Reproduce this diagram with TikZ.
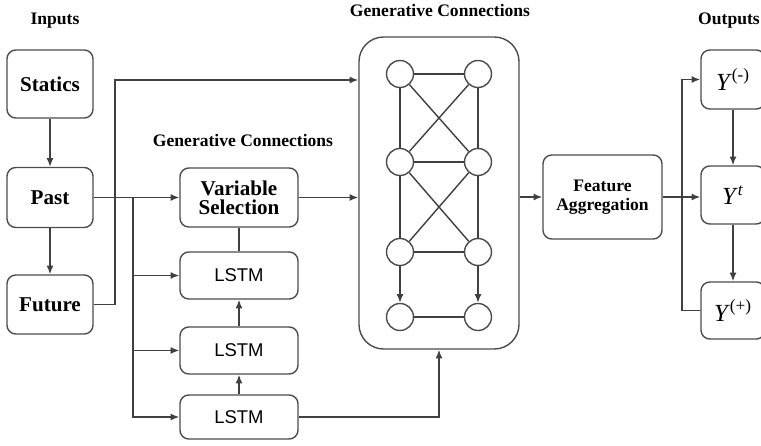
\documentclass[tikz,border=0pt]{standalone}
\usepackage{fontspec}
\setmainfont{Liberation Serif}
\setsansfont{Liberation Sans}
\usepackage{xcolor}
\usepackage{tikz}
\usetikzlibrary{arrows.meta}

\tikzset{
  box/.style={draw=black!70, line width=0.8pt, rounded corners=5pt, align=center,
    font=\fontsize{12}{13}\selectfont\bfseries},
  lstmbox/.style={box, font=\fontsize{10.5}{12}\selectfont\sffamily},
  ybox/.style={box, font=\fontsize{14}{16}\selectfont},
  unit/.style={circle, draw=black!70, line width=0.8pt, minimum size=27*0.02cm, inner sep=0pt},
  title/.style={font=\fontsize{10}{12}\selectfont\bfseries},
  wire/.style={draw=black!75, line width=0.8pt}
}

\begin{document}
\begin{tikzpicture}[x=0.02cm, y=-0.02cm, >={Latex[length=5pt,width=4pt]}]
    \useasboundingbox (0,0) rectangle (761,446);

    % titles
    \node[title] (tin) at (55,21) {Inputs};
    \node[title] (tgen) at (440,10) {Generative Connections};
    \node[title] (tvar) at (243,140) {Generative Connections};
    \node[title] (tout) at (729,21) {Outputs};

    % inputs
    \node[box, minimum width=86*0.02cm, minimum height=68*0.02cm] (statics) at (50,84) {Statics};
    \node[box, minimum width=86*0.02cm, minimum height=60*0.02cm] (past) at (50,197.5) {Past};
    \node[box, minimum width=86*0.02cm, minimum height=59*0.02cm] (future) at (50,304.5) {Future};

    % selection and lstm stack
    \node[box, minimum width=118*0.02cm, minimum height=59*0.02cm] (varsel) at (239,197.5) {Variable\\[-2pt]Selection};
    \node[lstmbox, minimum width=118*0.02cm, minimum height=47*0.02cm] (lstm1) at (239,275.5) {LSTM};
    \node[lstmbox, minimum width=118*0.02cm, minimum height=47*0.02cm] (lstm2) at (239,350.5) {LSTM};
    \node[lstmbox, minimum width=118*0.02cm, minimum height=44*0.02cm] (lstm3) at (239,417) {LSTM};

    % generative block
    \node[draw=black!70, line width=0.8pt, rounded corners=14pt, minimum width=160*0.02cm,
      minimum height=312*0.02cm] (genbox) at (439,193) {};
    \foreach \r/\yy in {1/74,2/162,3/252,4/317}{
      \node[unit] (l\r) at (400,\yy) {};
      \node[unit] (r\r) at (478,\yy) {};
      \draw[wire] (l\r) -- (r\r);
    }
    \draw[wire] (l1) -- (l2) (l2) -- (l3) (r1) -- (r2) (r2) -- (r3);
    \draw[wire] (l1) -- (r2) (r1) -- (l2) (l2) -- (r3) (r2) -- (l3);
    \draw[wire,->] (l3) -- (l4);
    \draw[wire,->] (r3) -- (r4);

    \node[box, font=\fontsize{10}{11}\selectfont\bfseries, minimum width=119*0.02cm,
      minimum height=84*0.02cm] (feat) at (602.5,197) {Feature\\Aggregation};

    % outputs
    \node[ybox, minimum width=64*0.02cm, minimum height=59*0.02cm] (ym) at (733,79.5) {\textit{Y}\textsuperscript{(-)}};
    \node[ybox, minimum width=64*0.02cm, minimum height=58*0.02cm] (yt) at (733,195) {\textit{Y}\textsuperscript{\textit{t}}};
    \node[ybox, minimum width=64*0.02cm, minimum height=57*0.02cm] (yp) at (733,310.5) {\textit{Y}\textsuperscript{(+)}};

    % connectors
    \coordinate (jf) at (115,80);
    \coordinate (jp) at (133,197.5);
    \coordinate (jo) at (682,197);
    \draw[wire,->] (statics) -- (past);
    \draw[wire,->] (past) -- (future);
    \draw[wire,->] (future.east) -| (jf) -- (jf -| genbox.west);
    \draw[wire,->] (past) -- (varsel);
    \draw[wire,->] (jp) |- (lstm3.west);
    \draw[wire,->] (jp |- lstm1.west) -- (lstm1.west);
    \draw[wire,->] (jp |- lstm2.west) -- (lstm2.west);
    \draw[wire] (varsel) -- (lstm1);
    \draw[wire,->] (lstm2) -- (lstm1);
    \draw[wire,->] (lstm3) -- (lstm2);
    \draw[wire,->] (varsel.east) -- (varsel.east -| genbox.west);
    \draw[wire,->] (lstm3.east) -| (genbox.south);
    \draw[wire,->] (genbox.east |- feat.west) -- (feat.west);
    \draw[wire,->] (feat.east) -- (yt.west |- feat.east);
    \draw[wire,->] (jo) |- (ym.west);
    \draw[wire] (jo) |- (yp.west);
    \draw[wire,->] (ym) -- (yt);
    \draw[wire,->] (yt) -- (yp);
  \end{tikzpicture}
\end{document}
